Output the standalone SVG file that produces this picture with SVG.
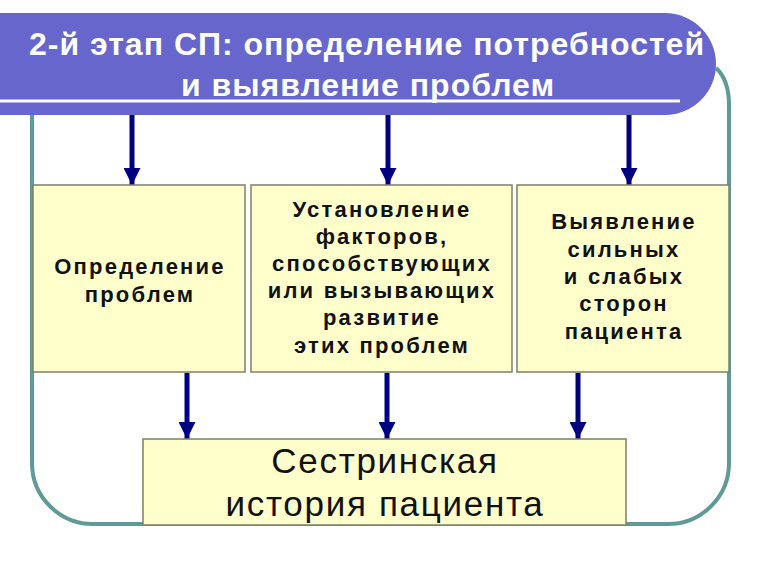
<svg xmlns="http://www.w3.org/2000/svg" width="768" height="576" viewBox="0 0 768 576">
<defs>
<style>
.box{fill:#ffffcc;stroke:#7f7f6a;stroke-width:1.5}
.bt{font-family:"Liberation Sans",Arial,sans-serif;font-weight:bold;font-size:22px;fill:#111;text-anchor:middle;letter-spacing:2.2px}
.big{font-family:"Liberation Sans",Arial,sans-serif;font-size:35px;fill:#111;text-anchor:middle;letter-spacing:1.7px}
.title{font-family:"Liberation Sans",Arial,sans-serif;font-weight:bold;font-size:32px;fill:#fff;text-anchor:middle;letter-spacing:1px}
.arr{stroke:#000080;stroke-width:5;fill:none}
</style>
<marker id="ah" viewBox="0 0 10 10" refX="10" refY="5" markerWidth="3.4" markerHeight="3.4" orient="auto" markerUnits="strokeWidth">
<path d="M0,0 L10,5 L0,10 z" fill="#000080"/>
</marker>
</defs>
<rect width="768" height="576" fill="#fff"/>
<g id="frame">
<path d="M32,115 L32,463 A61,61 0 0 0 93,524 L668,524 A61,61 0 0 0 729,463 L729,105 Q729,80 716,68" fill="none" stroke="#5f9a96" stroke-width="4"/>
</g>
<g id="header">
<path d="M0,13 L665,13 A51,51 0 0 1 665,115 L0,115 Z" fill="#6666cc"/>
<line x1="0" y1="101" x2="680" y2="101" stroke="#fff" stroke-width="3"/>
<text class="title" x="367" y="55">2-й этап СП: определение потребностей</text>
<text class="title" x="368" y="96">и выявление проблем</text>
</g>
<g id="connectors">
<line class="arr" x1="132" y1="115" x2="132" y2="185" marker-end="url(#ah)"/>
<line class="arr" x1="388" y1="115" x2="388" y2="185" marker-end="url(#ah)"/>
<line class="arr" x1="629" y1="115" x2="629" y2="185" marker-end="url(#ah)"/>
<line class="arr" x1="187" y1="373" x2="187" y2="439" marker-end="url(#ah)"/>
<line class="arr" x1="387" y1="373" x2="387" y2="439" marker-end="url(#ah)"/>
<line class="arr" x1="578" y1="373" x2="578" y2="439" marker-end="url(#ah)"/>
</g>
<g id="node1">
<rect class="box" x="33" y="185" width="212" height="187"/>
<text class="bt" x="140" y="274">Определение</text>
<text class="bt" x="140" y="302">проблем</text>
</g>
<g id="node2">
<rect class="box" x="251" y="185" width="261" height="187"/>
<text class="bt" x="382" y="217">Установление</text>
<text class="bt" x="382" y="244">факторов,</text>
<text class="bt" x="382" y="271">способствующих</text>
<text class="bt" x="382" y="298">или вызывающих</text>
<text class="bt" x="382" y="325">развитие</text>
<text class="bt" x="382" y="353">этих проблем</text>
</g>
<g id="node3">
<rect class="box" x="517" y="185" width="212" height="187"/>
<text class="bt" x="624" y="229">Выявление</text>
<text class="bt" x="624" y="257">сильных</text>
<text class="bt" x="624" y="284">и слабых</text>
<text class="bt" x="624" y="311">сторон</text>
<text class="bt" x="624" y="339">пациента</text>
</g>
<g id="node4">
<rect class="box" x="143" y="439" width="483" height="86"/>
<text class="big" x="385" y="473">Сестринская</text>
<text class="big" x="385" y="516">история пациента</text>
</g>
</svg>
